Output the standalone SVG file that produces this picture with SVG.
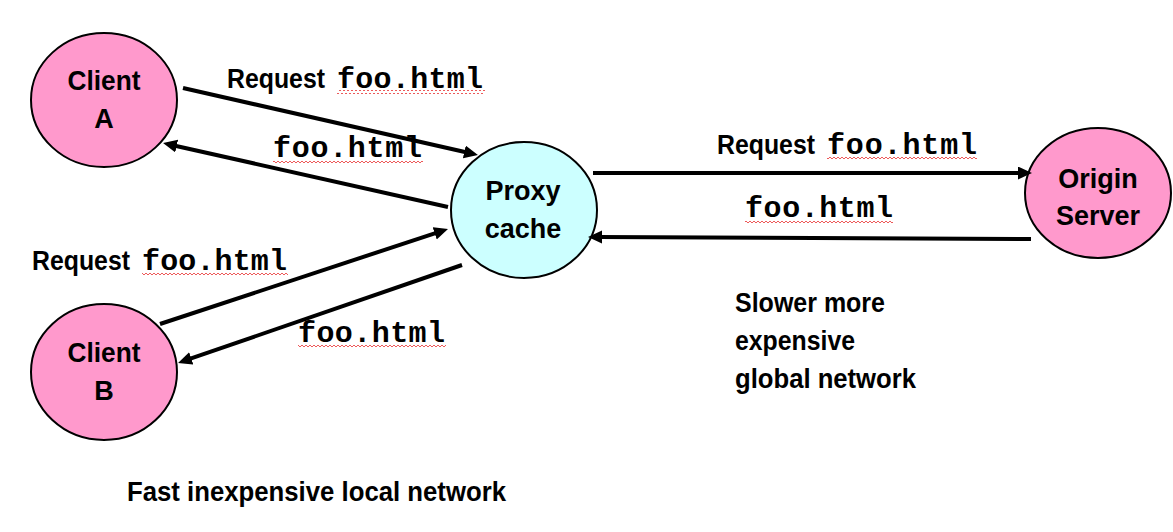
<svg xmlns="http://www.w3.org/2000/svg" width="1173" height="532" viewBox="0 0 1173 532">
<style>
.node{stroke:#000;stroke-width:2}
.pink{fill:#FF99CC}
.cyan{fill:#CCFFFF}
.nt{font-family:"Liberation Sans",Arial,sans-serif;font-weight:bold;font-size:27px;fill:#000;text-anchor:middle}
.lab{font-family:"Liberation Sans",Arial,sans-serif;font-weight:bold;font-size:27px;fill:#000}
.mono{font-family:"Liberation Mono","Courier New",monospace;font-weight:bold;font-size:30px;fill:#000}
.conn{stroke:#000;stroke-width:4;fill:none;marker-end:url(#ah)}
.sq{fill:url(#squig)}
</style>
<defs>
<marker id="ah" markerUnits="userSpaceOnUse" markerWidth="16" markerHeight="14" refX="4" refY="6.5" orient="auto">
<path d="M0,0 L14,6.5 L0,13 z" fill="#000"/>
</marker>
<pattern id="squig" patternUnits="userSpaceOnUse" width="4" height="4">
<path d="M0,3 L2,1 L4,3" stroke="#E83030" stroke-width="0.8" fill="none"/>
</pattern>
</defs>
<g id="clientA">
<ellipse class="node pink" cx="104" cy="100" rx="73" ry="67"/>
<text class="nt" x="104" y="90" textLength="73" lengthAdjust="spacingAndGlyphs">Client</text>
<text class="nt" x="104" y="128">A</text>
</g>
<g id="clientB">
<ellipse class="node pink" cx="104" cy="372" rx="73" ry="68"/>
<text class="nt" x="104" y="362" textLength="73" lengthAdjust="spacingAndGlyphs">Client</text>
<text class="nt" x="104" y="400">B</text>
</g>
<g id="proxy">
<ellipse class="node cyan" cx="524" cy="210" rx="73" ry="68"/>
<text class="nt" x="523" y="200">Proxy</text>
<text class="nt" x="523" y="238">cache</text>
</g>
<g id="origin">
<ellipse class="node pink" cx="1098" cy="193" rx="73" ry="65"/>
<text class="nt" x="1098" y="188">Origin</text>
<text class="nt" x="1098" y="225">Server</text>
</g>
<g id="connectors">
<line class="conn" x1="183" y1="88" x2="468.2" y2="152.8"/>
<line class="conn" x1="448" y1="207" x2="172.8" y2="145.2"/>
<line class="conn" x1="160" y1="324" x2="438.5" y2="232.1"/>
<line class="conn" x1="462" y1="265" x2="187.5" y2="359.7"/>
<line class="conn" x1="593" y1="173" x2="1022" y2="173"/>
<line class="conn" x1="1031" y1="239" x2="598" y2="237"/>
</g>
<g id="labels">
<text class="lab" x="227" y="88" textLength="98" lengthAdjust="spacingAndGlyphs">Request</text>
<text class="mono" x="337" y="88" textLength="146">foo.html</text>
<rect class="sq" x="337" y="90" width="148" height="4"/>
<text class="mono" x="273" y="157" textLength="149">foo.html</text>
<rect class="sq" x="273" y="159" width="150" height="4"/>
<text class="lab" x="717" y="154" textLength="98" lengthAdjust="spacingAndGlyphs">Request</text>
<text class="mono" x="827" y="154" textLength="150">foo.html</text>
<rect class="sq" x="827" y="156" width="150" height="4"/>
<text class="mono" x="745" y="217" textLength="148">foo.html</text>
<rect class="sq" x="745" y="219" width="148" height="4"/>
<text class="lab" x="32" y="270" textLength="98" lengthAdjust="spacingAndGlyphs">Request</text>
<text class="mono" x="142" y="270" textLength="145">foo.html</text>
<rect class="sq" x="142" y="272" width="146" height="4"/>
<text class="mono" x="298" y="342" textLength="147">foo.html</text>
<rect class="sq" x="298" y="344" width="148" height="4"/>
<text class="lab" x="735" y="312" textLength="150" lengthAdjust="spacingAndGlyphs">Slower more</text>
<text class="lab" x="735" y="350" textLength="120" lengthAdjust="spacingAndGlyphs">expensive</text>
<text class="lab" x="735" y="388" textLength="181" lengthAdjust="spacingAndGlyphs">global network</text>
<text class="lab" x="127" y="501" textLength="379" lengthAdjust="spacingAndGlyphs">Fast inexpensive local network</text>
</g>
</svg>
